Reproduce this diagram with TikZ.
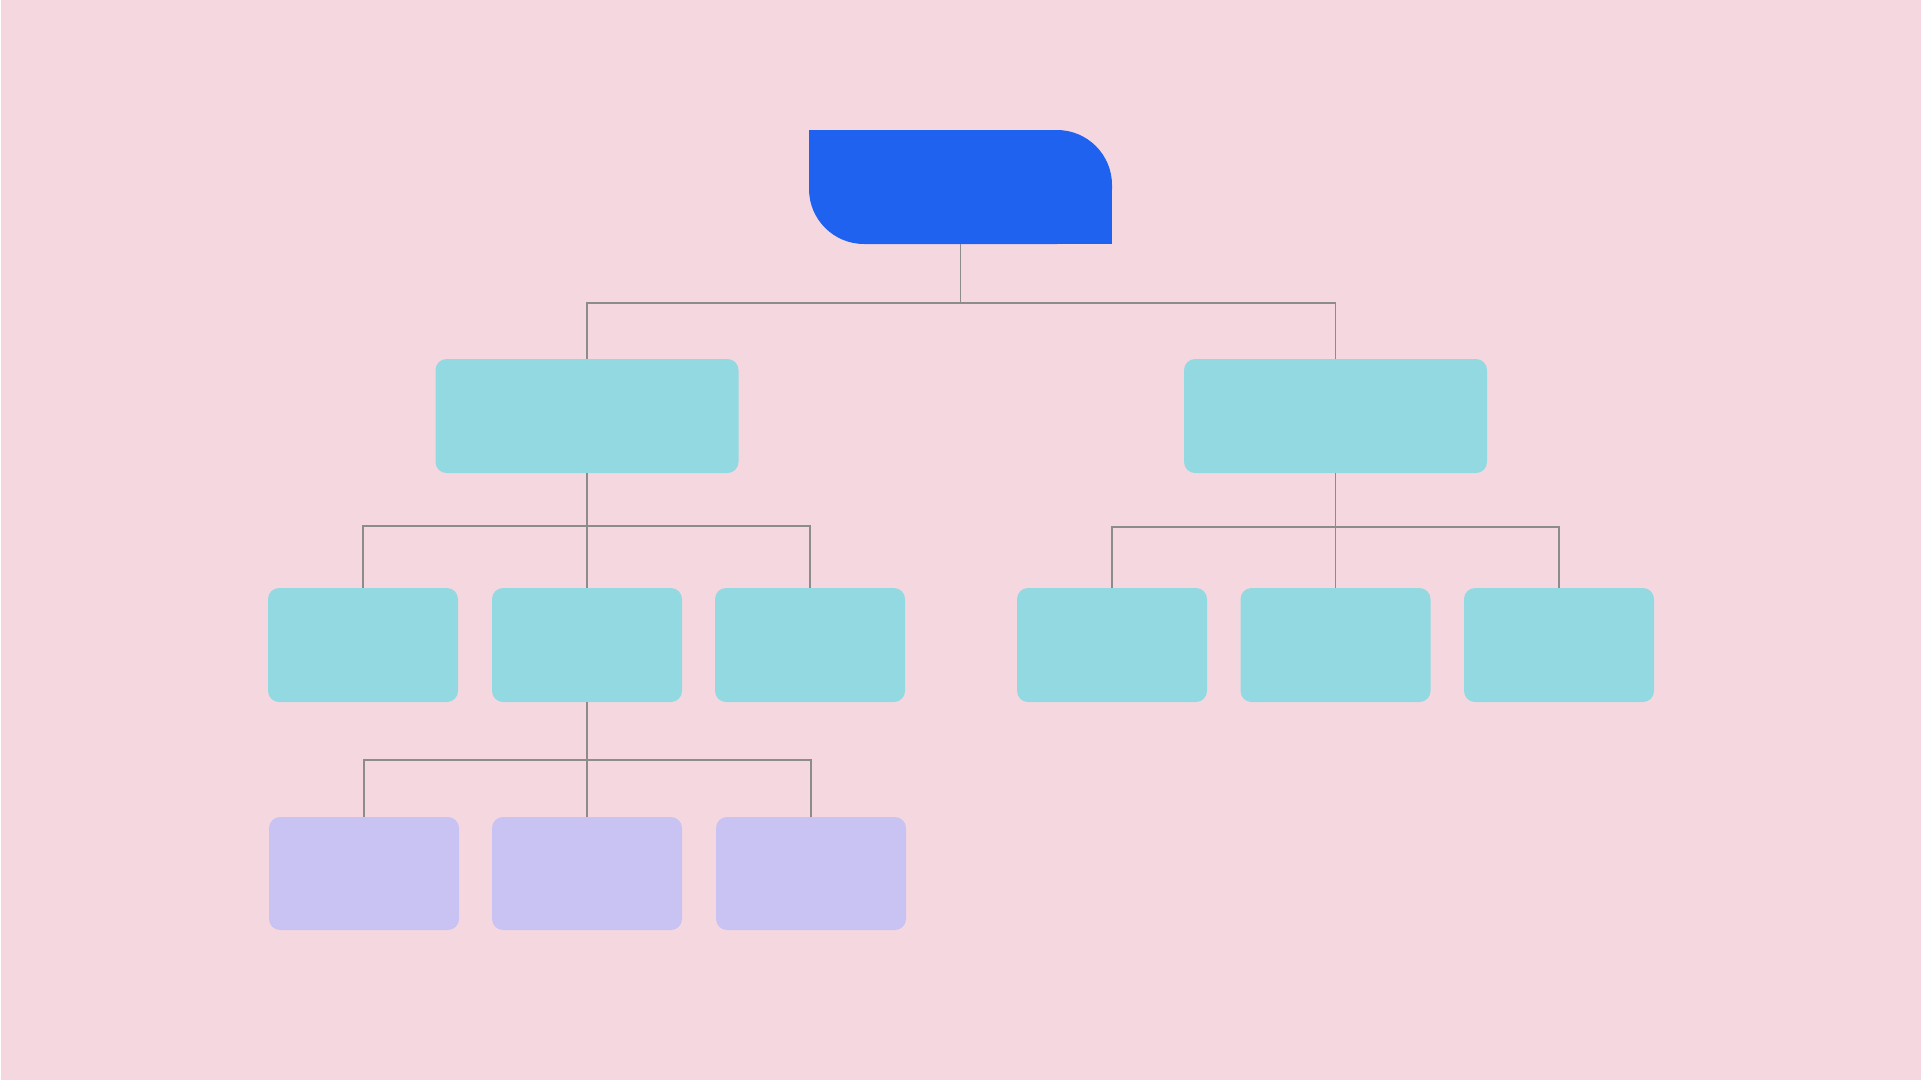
\documentclass[tikz,border=0pt]{standalone}
\usetikzlibrary{calc}
\definecolor{bgpink}{HTML}{F5D8DF}
\definecolor{rootblue}{HTML}{1E62EF}
\definecolor{boxcyan}{HTML}{92D9E2}
\definecolor{boxlav}{HTML}{C9C3F3}
\definecolor{linegray}{HTML}{8C8C8C}
\tikzset{
  rootbox/.style={rectangle, fill=rootblue, rounded corners=55pt, minimum width=303pt, minimum height=114pt, inner sep=0pt},
  midbox/.style={rectangle, fill=boxcyan, rounded corners=11pt, minimum width=303pt, minimum height=114pt, inner sep=0pt},
  leafbox/.style={rectangle, fill=boxcyan, rounded corners=11pt, minimum width=190pt, minimum height=114pt, inner sep=0pt},
  lavbox/.style={rectangle, fill=boxlav, rounded corners=11pt, minimum width=190pt, minimum height=113pt, inner sep=0pt},
  conn/.style={draw=linegray, line width=1.9pt}
}
\begin{document}
\begin{tikzpicture}[x=1pt,y=-1pt]
\fill[bgpink] (0,0) rectangle (1921,1080);
\fill[white] (0,0) rectangle (1.2,1080);
\useasboundingbox (0,0) rectangle (1921,1080);
\coordinate (b1) at (960.5,303);
\coordinate (b2) at (587,526);
\coordinate (b3) at (1335.5,527);
\coordinate (b4) at (587,760);
% connectors
\node[rootbox] (root) at (960.5,187) {};
\node[midbox] (A) at (587,416) {};
\node[midbox] (B) at (1335.5,416) {};
\node[leafbox] (A1) at (363,645) {};
\node[leafbox] (A2) at (587,645) {};
\node[leafbox] (A3) at (810,645) {};
\node[leafbox] (B1) at (1112,645) {};
\node[leafbox] (B2) at (1335.5,645) {};
\node[leafbox] (B3) at (1559,645) {};
\node[lavbox] (C1) at (364,873.5) {};
\node[lavbox] (C2) at (587,873.5) {};
\node[lavbox] (C3) at (811,873.5) {};
\draw[conn] (root.south) -- (b1);
\draw[conn] (A.north) |- (b1) -| (B.north);
\draw[conn] (A.south) -- (b2);
\draw[conn] (A1.north) |- (b2) -| (A3.north);
\draw[conn] (b2) -- (A2.north);
\draw[conn] (B.south) -- (b3);
\draw[conn] (B1.north) |- (b3) -| (B3.north);
\draw[conn] (b3) -- (B2.north);
\draw[conn] (A2.south) -- (b4);
\draw[conn] (C1.north) |- (b4) -| (C3.north);
\draw[conn] (b4) -- (C2.north);
% sharp corners of the root box
\fill[rootblue] (root.north west) rectangle ([xshift=1pt,yshift=1pt]root.center);
\fill[rootblue] ([xshift=-1pt,yshift=-1pt]root.center) rectangle (root.south east);
\end{tikzpicture}
\end{document}
